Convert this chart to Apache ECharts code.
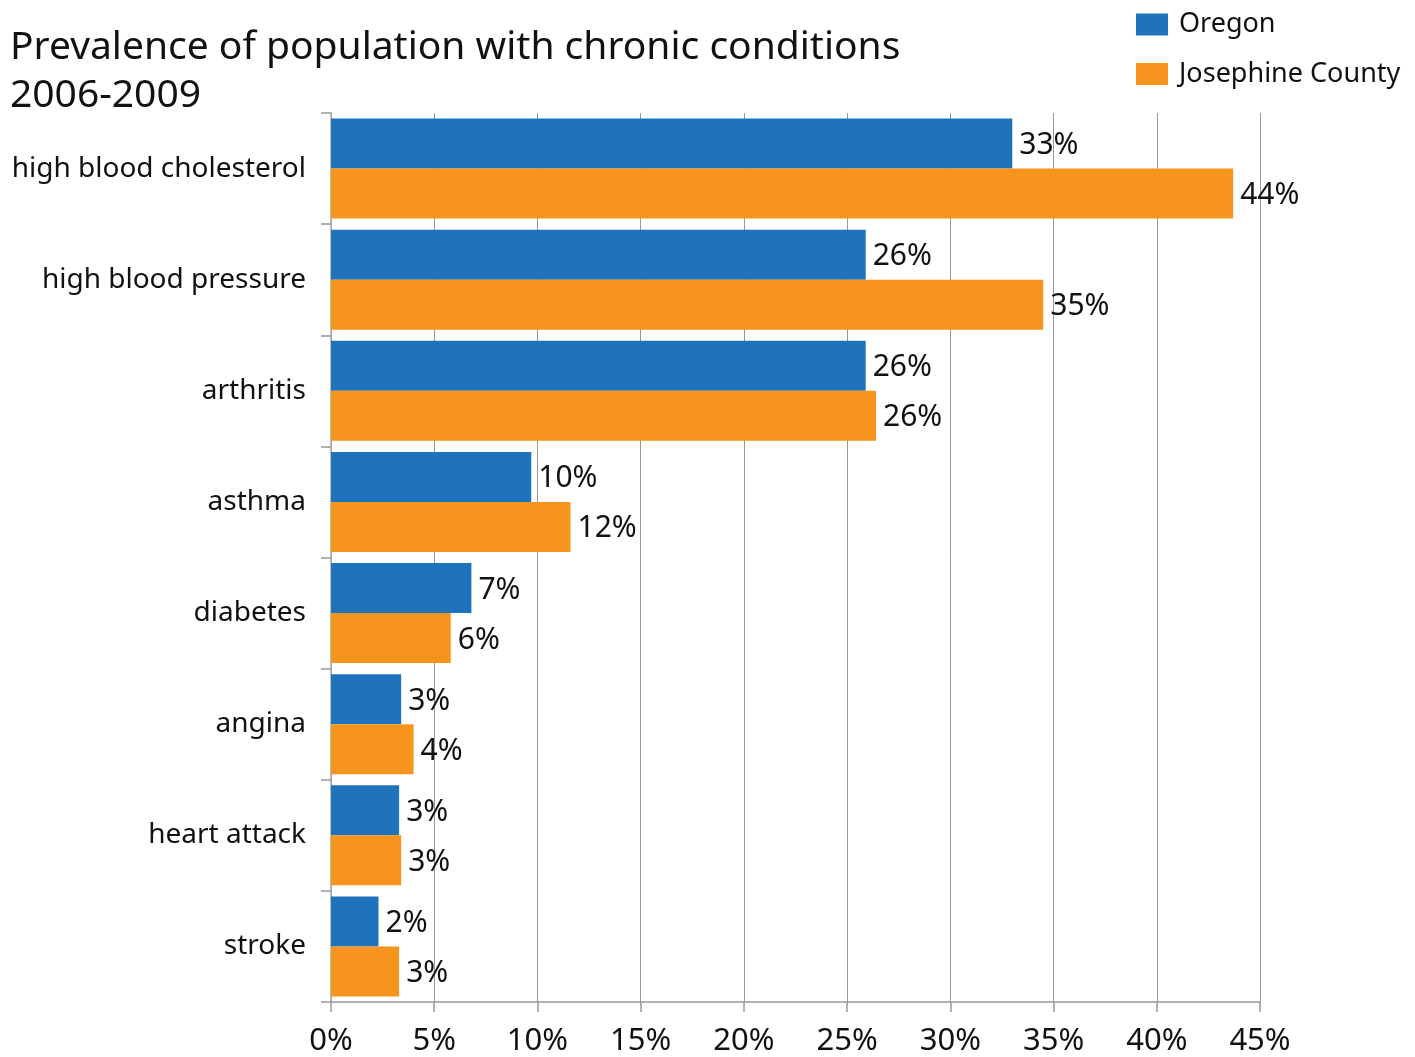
<!DOCTYPE html>
<html>
<head>
<meta charset="utf-8">
<script src="https://cdn.jsdelivr.net/npm/echarts@6/dist/echarts.min.js"></script>
<style>
html,body{margin:0;padding:0;background:#fff;}
#chart{width:1415px;height:1057px;}
</style>
</head>
<body>
<div id="chart"></div>
<script>
const categories = ["high blood cholesterol","high blood pressure","arthritis","asthma","diabetes","angina","heart attack","stroke"];
const oregon = [33.0, 25.9, 25.9, 9.7, 6.8, 3.4, 3.3, 2.3];
const josephine = [43.7, 34.5, 26.4, 11.6, 5.8, 4.0, 3.4, 3.3];
const xTicks = [0,5,10,15,20,25,30,35,40,45];
const seriesNames = ["Oregon","Josephine County"];

const FONT = "Noto Sans";
const chart = echarts.init(document.getElementById('chart'));
const labelOpt = {
  show: true, position: 'right', distance: 7, offset: [0, 2],
  fontFamily: FONT, fontSize: 30, color: '#111',
  formatter: p => Math.round(p.value) + '%'
};
chart.setOption({
  animation: false,
  backgroundColor: '#fff',
  title: {
    text: 'Prevalence of population with chronic conditions\n2006-2009',
    left: 5, top: 19,
    textStyle: {fontFamily: FONT, fontSize: 39, fontWeight: 'normal', color: '#111', lineHeight: 48}
  },
  legend: {
    orient: 'vertical', left: 1131, top: 6,
    itemWidth: 32, itemHeight: 22, itemGap: 22.5, icon: 'rect',
    textStyle: {fontFamily: FONT, fontSize: 27, color: '#111', padding: [0, 0, 0, 6]},
    data: seriesNames
  },
  grid: {left: 331, right: 155, top: 113, bottom: 51, containLabel: false},
  xAxis: {
    type: 'value', min: 0, max: 45, interval: 5,
    axisLine: {show: true, lineStyle: {color: '#999', width: 1.5}},
    axisTick: {show: true, length: 10, lineStyle: {color: '#999', width: 1.5}},
    splitLine: {show: true, lineStyle: {color: '#999', width: 1}},
    axisLabel: {fontFamily: FONT, fontSize: 31, color: '#111', margin: 24,
      formatter: v => v + '%'}
  },
  yAxis: {
    type: 'category', data: categories, inverse: true,
    axisLine: {show: true, lineStyle: {color: '#aaa', width: 1.5}},
    axisTick: {show: true, length: 10, alignWithLabel: false, lineStyle: {color: '#999', width: 1.5}},
    axisLabel: {fontFamily: FONT, fontSize: 28, color: '#111', margin: 25, padding: [5, 0, 0, 0]}
  },
  series: [
    {name: seriesNames[0], type: 'bar', data: oregon, barWidth: 50, barGap: '0%',
     itemStyle: {color: '#1F73BD'}, label: labelOpt},
    {name: seriesNames[1], type: 'bar', data: josephine, barWidth: 50, barGap: '0%',
     itemStyle: {color: '#F7941E'}, label: labelOpt}
  ]
});
</script>
</body>
</html>
